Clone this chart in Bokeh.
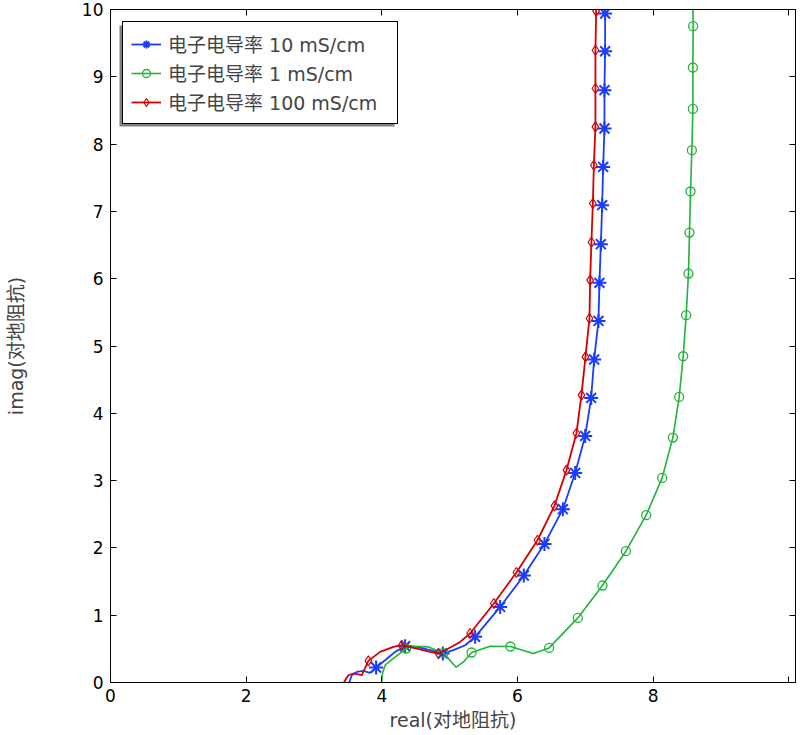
from bokeh.plotting import figure
from bokeh.models import (Range1d, LinearAxis, FixedTicker, Legend, LegendItem,
                          BoxAnnotation)
from bokeh.embed import file_html
from bokeh.resources import INLINE

# ---------------- data ----------------
blue_label = "电子电导率 10 mS/cm"
green_label = "电子电导率 1 mS/cm"
red_label = "电子电导率 100 mS/cm"

blue_line_x = [3.52, 3.557, 3.631, 3.729, 3.827, 3.916, 4.049, 4.196, 4.344, 4.516, 4.712, 4.900,
               5.056, 5.229, 5.376, 5.745, 6.094, 6.398, 6.670, 6.851, 6.999, 7.087, 7.131,
               7.195, 7.209, 7.230, 7.249, 7.264, 7.283, 7.283, 7.293, 7.293, 7.300]
blue_line_y = [0.0, 0.108, 0.157, 0.172, 0.143, 0.223, 0.331, 0.455, 0.539, 0.529, 0.480, 0.431,
               0.480, 0.554, 0.678, 1.123, 1.590, 2.059, 2.575, 3.114, 3.664, 4.229, 4.799,
               5.373, 5.938, 6.513, 7.092, 7.661, 8.232, 8.801, 9.380, 9.941, 10.3]
blue_mark_x = [3.916, 4.344, 4.900, 5.376, 5.745, 6.094, 6.398, 6.670, 6.851, 6.999, 7.087,
               7.131, 7.195, 7.209, 7.230, 7.249, 7.264, 7.283, 7.283, 7.293, 7.293]
blue_mark_y = [0.223, 0.539, 0.431, 0.678, 1.123, 1.590, 2.059, 2.575, 3.114, 3.664, 4.229,
               4.799, 5.373, 5.938, 6.513, 7.092, 7.661, 8.232, 8.801, 9.380, 9.941]

red_line_x = [3.44, 3.507, 3.581, 3.705, 3.802, 3.975, 4.171, 4.295, 4.516, 4.712, 4.835, 4.982,
              5.155, 5.302, 5.652, 5.985, 6.295, 6.546, 6.723, 6.870, 6.944, 7.003, 7.062,
              7.072, 7.091, 7.112, 7.127, 7.150, 7.150, 7.150, 7.161, 7.165]
red_line_y = [0.0, 0.108, 0.134, 0.108, 0.321, 0.455, 0.529, 0.554, 0.505, 0.455, 0.431, 0.505,
              0.603, 0.728, 1.174, 1.634, 2.114, 2.624, 3.155, 3.704, 4.269, 4.838, 5.409,
              5.978, 6.542, 7.117, 7.686, 8.256, 8.826, 9.395, 9.975, 10.3]
red_mark_x = [3.802, 4.295, 4.835, 5.302, 5.652, 5.985, 6.295, 6.546, 6.723, 6.870, 6.944,
              7.003, 7.062, 7.072, 7.091, 7.112, 7.127, 7.150, 7.150, 7.150, 7.161]
red_mark_y = [0.321, 0.554, 0.431, 0.728, 1.174, 1.634, 2.114, 2.624, 3.155, 3.704, 4.269,
              4.838, 5.409, 5.978, 6.542, 7.117, 7.686, 8.256, 8.826, 9.395, 9.975]

green_line_x = [4.000, 4.008, 4.049, 4.171, 4.358, 4.466, 4.687, 4.909, 5.096, 5.204, 5.324,
                5.597, 5.897, 6.236, 6.467, 6.891, 7.254, 7.599, 7.898, 8.134, 8.292, 8.385,
                8.444, 8.488, 8.522, 8.537, 8.552, 8.572, 8.587, 8.587, 8.591, 8.585]
green_line_y = [0.0, 0.13, 0.257, 0.357, 0.505, 0.539, 0.529, 0.440, 0.227, 0.306, 0.446,
                0.539, 0.535, 0.431, 0.514, 0.960, 1.441, 1.951, 2.486, 3.040, 3.640, 4.244,
                4.848, 5.458, 6.077, 6.686, 7.296, 7.909, 8.523, 9.138, 9.752, 10.3]
green_mark_x = [4.358, 4.909, 5.324, 5.897, 6.467, 6.891, 7.254, 7.599, 7.898, 8.134, 8.292,
                8.385, 8.444, 8.488, 8.522, 8.537, 8.552, 8.572, 8.587, 8.587, 8.591]
green_mark_y = [0.505, 0.440, 0.446, 0.535, 0.514, 0.960, 1.441, 1.951, 2.486, 3.040, 3.640,
                4.244, 4.848, 5.458, 6.077, 6.686, 7.296, 7.909, 8.523, 9.138, 9.752]

x_ticks = [0, 2, 4, 6, 8, 10]
x_tick_labels = ["0", "2", "4", "6", "8", ""]
y_ticks = [0, 1, 2, 3, 4, 5, 6, 7, 8, 9, 10]
y_tick_labels = ["0", "1", "2", "3", "4", "5", "6", "7", "8", "9", "10"]

x_label = "real(对地阻抗)"
y_label = "imag(对地阻抗)"

# ---------------- styling ----------------
FONT = "DejaVu Sans, Noto Sans CJK SC"
BLUE = "#1a3cff"
GREEN = "#22b33a"
RED = "#d40000"

p = figure(width=798, height=733, output_backend="svg", toolbar_location=None,
           x_range=Range1d(0, 10.1), y_range=Range1d(0, 10),
           min_border_left=110, min_border_right=3, min_border_top=9, min_border_bottom=51)
p.xgrid.visible = False
p.ygrid.visible = False
p.outline_line_color = "black"
p.outline_line_alpha = 1
p.outline_line_width = 1
p.background_fill_color = "white"
p.border_fill_color = "white"


def style_axis(ax, ticks, labels, show_labels=True):
    ax.ticker = FixedTicker(ticks=ticks)
    ax.major_tick_in = 6
    ax.major_tick_out = 0
    ax.minor_tick_in = 0
    ax.minor_tick_out = 0
    ax.axis_line_color = "black"
    ax.major_tick_line_color = "black"
    ax.major_label_text_font = FONT
    ax.major_label_text_color = "black"
    if show_labels:
        ax.major_label_overrides = {t: l for t, l in zip(ticks, labels)}
        ax.major_label_text_font_size = "17px"
    else:
        ax.major_label_overrides = {t: "" for t in ticks}
        ax.major_label_text_font_size = "1px"
        ax.major_label_standoff = 0


xb = p.xaxis[0]
style_axis(xb, x_ticks, x_tick_labels)
xb.major_label_standoff = 6
xb.axis_label = x_label
xb.axis_label_text_font = FONT
xb.axis_label_text_font_size = "19px"
xb.axis_label_text_font_style = "normal"
xb.axis_label_standoff = 4

yl = p.yaxis[0]
style_axis(yl, y_ticks, y_tick_labels)
yl.major_label_standoff = 7
yl.axis_label = y_label
yl.axis_label_text_font = FONT
yl.axis_label_text_font_size = "19px"
yl.axis_label_text_font_style = "normal"
yl.axis_label_standoff = 52

xt = LinearAxis()
style_axis(xt, x_ticks, x_tick_labels, show_labels=False)
p.add_layout(xt, "above")
yr = LinearAxis()
style_axis(yr, y_ticks, y_tick_labels, show_labels=False)
p.add_layout(yr, "right")

# ---------------- glyphs ----------------
lb = p.line(blue_line_x, blue_line_y, line_color=BLUE, line_width=1.8)
sb = p.scatter(blue_mark_x, blue_mark_y, marker="asterisk", size=14, line_color=BLUE,
               line_width=2)
lg = p.line(green_line_x, green_line_y, line_color=GREEN, line_width=1.6)
sg = p.scatter(green_mark_x, green_mark_y, marker="circle", size=9, fill_color=None,
               line_color=GREEN, line_width=1.3)
lr = p.line(red_line_x, red_line_y, line_color=RED, line_width=1.8)
sr = p.scatter(red_mark_x, red_mark_y, marker="diamond", size=10,
               fill_color=None, line_color=RED, line_width=1.2)

# ---------------- legend ----------------
shadow = BoxAnnotation(left=119, right=394, top=25, bottom=126,
                       left_units="canvas", right_units="canvas",
                       top_units="canvas", bottom_units="canvas",
                       fill_color="#808080", fill_alpha=1, line_color=None)
p.add_layout(shadow)

legend = Legend(items=[LegendItem(label=blue_label, renderers=[lb, sb]),
                       LegendItem(label=green_label, renderers=[lg, sg]),
                       LegendItem(label=red_label, renderers=[lr, sr])],
                location="top_left", margin=12, padding=8, spacing=2,
                glyph_width=30, glyph_height=20, label_height=20, label_width=221,
                label_standoff=7,
                label_text_font=FONT, label_text_font_size="19px",
                border_line_color="black", border_line_width=1, border_line_alpha=1,
                background_fill_color="white", background_fill_alpha=1)
p.add_layout(legend)

open("out.html", "w").write(file_html(p, INLINE))
